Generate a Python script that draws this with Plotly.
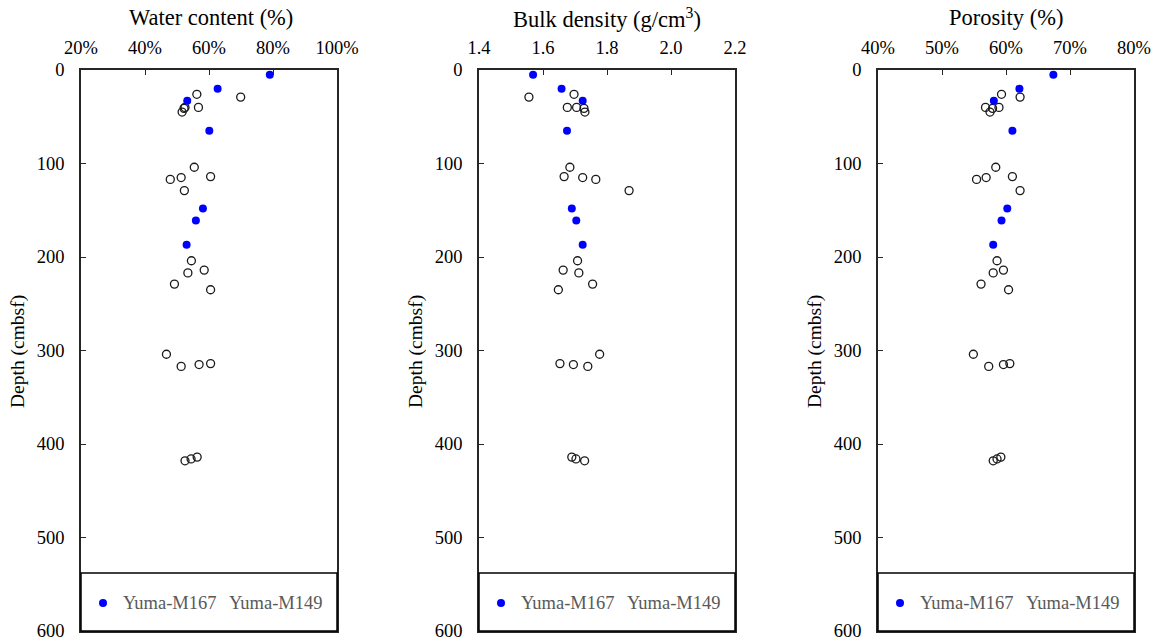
import plotly.graph_objects as go
from plotly.subplots import make_subplots

# Sediment physical properties versus depth (cmbsf)
m167_depth = [5, 20, 33, 65, 148, 161, 187]
m167_water = [79.0, 62.7, 53.2, 60.1, 58.1, 55.9, 53.0]
m167_density = [1.569, 1.658, 1.724, 1.675, 1.690, 1.704, 1.724]
m167_porosity = [67.4, 62.1, 58.1, 61.0, 60.2, 59.3, 58.0]

m149_depth = [26, 29, 40, 40, 41, 45, 104, 114, 115, 117, 129,
              204, 214, 217, 229, 235, 304, 314, 315, 317, 414, 416, 418]
m149_water = [56.2, 69.9, 52.5, 56.7, 52.2, 51.6, 55.4, 60.5, 51.3, 47.9, 52.3,
              54.5, 58.5, 53.4, 49.2, 60.5, 46.7, 60.5, 56.9, 51.3, 56.3, 54.4, 52.5]
m149_density = [1.697, 1.556, 1.676, 1.705, 1.728, 1.731, 1.684, 1.666, 1.724, 1.765, 1.869,
                1.708, 1.663, 1.712, 1.755, 1.648, 1.777, 1.653, 1.695, 1.740, 1.690, 1.703, 1.730]
m149_porosity = [59.3, 62.2, 56.8, 58.9, 57.9, 57.5, 58.4, 61.0, 56.9, 55.4, 62.2,
                 58.6, 59.6, 58.0, 56.1, 60.4, 54.9, 60.6, 59.6, 57.3, 59.2, 58.6, 58.0]

panel_titles = ["Water content (%)", "Bulk density (g/cm<sup>3</sup>)", "Porosity (%)"]
series_names = ["Yuma-M167", "Yuma-M149"]
x_ranges = [[20, 100], [1.4, 2.2], [40, 80]]
x_ticks = [[20, 40, 60, 80, 100], [1.4, 1.6, 1.8, 2.0, 2.2], [40, 50, 60, 70, 80]]
x_labels = [["20%", "40%", "60%", "80%", "100%"],
            ["1.4", "1.6", "1.8", "2.0", "2.2"],
            ["40%", "50%", "60%", "70%", "80%"]]
depth_ticks = [0, 100, 200, 300, 400, 500, 600]

W, H = 1155, 639
FONT = "Liberation Serif, Times New Roman, serif"
AX = "#262626"

panel_px = [(81, 337), (479, 735), (878, 1134)]
top_px, bottom_px = 70, 631
title_px = [211, 607, 1006]

fig = make_subplots(rows=1, cols=3)

m167_vals = [m167_water, m167_density, m167_porosity]
m149_vals = [m149_water, m149_density, m149_porosity]

for i in range(3):
    fig.add_trace(go.Scatter(
        x=m149_vals[i], y=m149_depth, mode="markers", name=series_names[1],
        showlegend=False,
        marker=dict(symbol="circle-open", size=8, color="#1a1a1a", line=dict(width=1.3)),
    ), row=1, col=i + 1)
    fig.add_trace(go.Scatter(
        x=m167_vals[i], y=m167_depth, mode="markers", name=series_names[0],
        showlegend=False,
        marker=dict(symbol="circle", size=8, color="#0000FF", line=dict(width=0)),
    ), row=1, col=i + 1)

y_dom = [1 - bottom_px / H, 1 - top_px / H]
for i in range(3):
    x0, x1 = panel_px[i]
    xa = "xaxis" if i == 0 else f"xaxis{i + 1}"
    ya = "yaxis" if i == 0 else f"yaxis{i + 1}"
    fig.layout[xa].update(
        domain=[x0 / W, x1 / W], range=x_ranges[i], side="top", automargin=False,
        tickmode="array", tickvals=x_ticks[i], ticktext=x_labels[i],
        ticks="inside", ticklen=5, tickwidth=1.3, tickcolor=AX,
        ticklabelstandoff=7, ticklabeloverflow="allow",
        showline=True, linecolor=AX, linewidth=1.5, mirror=True,
        showgrid=False, zeroline=False,
        tickfont=dict(family=FONT, size=18.5, color="black"),
    )
    fig.layout[ya].update(
        domain=y_dom, range=[600, 0], automargin=False,
        tickmode="array", tickvals=depth_ticks,
        ticks="inside", ticklen=5, tickwidth=1.3, tickcolor=AX,
        ticklabelstandoff=11, ticklabeloverflow="allow",
        showline=True, linecolor=AX, linewidth=1.5, mirror=True,
        showgrid=False, zeroline=False,
        tickfont=dict(family=FONT, size=18.5, color="black"),
    )

    # panel heading above the top axis
    fig.add_annotation(
        text=panel_titles[i], xref="paper", yref="paper",
        x=title_px[i] / W, y=1 - 18 / H, xanchor="center", yanchor="middle",
        showarrow=False, font=dict(family=FONT, size=22.5, color="black"),
    )
    # depth axis title
    fig.add_annotation(
        text="Depth (cmbsf)", xref="paper", yref="paper",
        x=(x0 - 63) / W, y=1 - 352 / H, xanchor="center", yanchor="middle",
        textangle=-90, showarrow=False, font=dict(family=FONT, size=19.5, color="black"),
    )

    # legend box at the foot of each panel
    xd = "x domain" if i == 0 else f"x{i + 1} domain"
    yd = "y domain" if i == 0 else f"y{i + 1} domain"
    box_top = (bottom_px - 573) / (bottom_px - top_px)
    fig.add_shape(type="rect", xref=xd, yref=yd, x0=0, x1=1, y0=0, y1=box_top,
                  fillcolor="white", line=dict(color="black", width=1.5), layer="above")
    mid = (bottom_px - 603) / (bottom_px - top_px)
    dot_x = x0 + 22
    fig.add_shape(type="circle", xref="paper", yref="paper",
                  x0=(dot_x - 4) / W, x1=(dot_x + 4) / W,
                  y0=1 - (603 + 4) / H, y1=1 - (603 - 4) / H,
                  fillcolor="#0000FF", line=dict(width=0), layer="above")
    for name, off in zip(series_names, [40, 146]):
        fig.add_annotation(
            text=name, xref="paper", yref=yd, x=(x0 + off) / W, y=mid,
            xanchor="left", yanchor="middle", showarrow=False,
            font=dict(family=FONT, size=18.5, color="#595959"),
        )

fig.update_layout(
    width=W, height=H, margin=dict(l=0, r=0, t=0, b=0, autoexpand=False),
    paper_bgcolor="white", plot_bgcolor="white", showlegend=False,
)

fig.write_html("out.html")
